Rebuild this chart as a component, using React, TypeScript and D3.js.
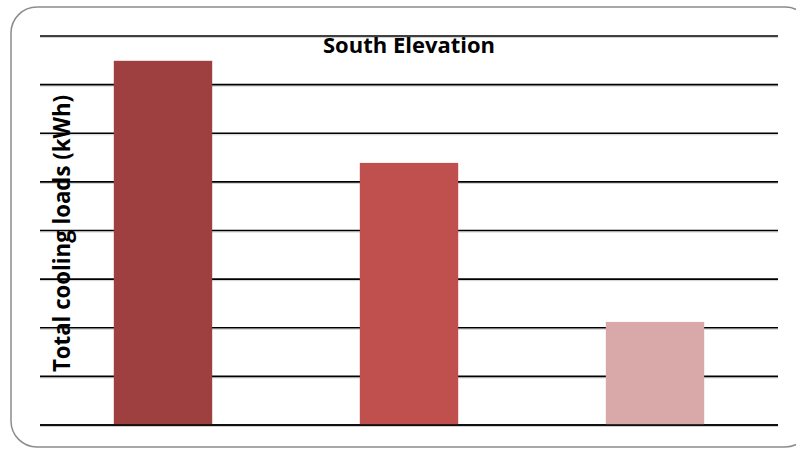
import React from "react";
import * as d3 from "d3";

const categories = ["Case A", "Case B", "Case C"];
const coolingLoads = [7490, 5390, 2120];
const barColors = ["#9E4040", "#C0504D", "#D9A9A9"];
const yTicks = [0, 1000, 2000, 3000, 4000, 5000, 6000, 7000, 8000];

const W = 796;
const H = 450;
const margin = { left: 40, right: 18, top: 36, bottom: 25 };

export default function App() {
  const x = d3
    .scaleBand<string>()
    .domain(categories)
    .range([margin.left, W - margin.right])
    .paddingInner(0.6)
    .paddingOuter(0.3);
  const y = d3
    .scaleLinear()
    .domain([0, 8000])
    .range([H - margin.bottom, margin.top]);

  return (
    <div style={{ position: "fixed", left: 0, top: 0 }}>
      <svg width={W} height={H} style={{ display: "block", background: "#fff" }}>
        <rect x={11} y={7} width={800} height={440} rx={26} ry={26} fill="#fff" stroke="#8c8c8c" strokeWidth={1.5} />
        {yTicks.map((t) => (
          <g key={t}>
            <line x1={margin.left} x2={W - margin.right} y1={y(t) + 1.5} y2={y(t) + 1.5} stroke="#d0d0d0" strokeWidth={1} />
            <line x1={margin.left} x2={W - margin.right} y1={y(t)} y2={y(t)} stroke="#000" strokeWidth={1.6} />
          </g>
        ))}
        {categories.map((c, i) => (
          <rect
            key={c}
            x={x(c)}
            y={y(coolingLoads[i])}
            width={x.bandwidth()}
            height={y(0) - y(coolingLoads[i])}
            fill={barColors[i]}
          />
        ))}
        <line x1={margin.left} x2={W - margin.right} y1={y(0)} y2={y(0)} stroke="#000" strokeWidth={1.6} />
        <text
          x={409}
          y={53}
          textAnchor="middle"
          fontFamily="'Open Sans', sans-serif"
          fontWeight={700}
          fontSize={22}
          textLength={172}
          lengthAdjust="spacingAndGlyphs"
          fill="#000"
        >
          South Elevation
        </text>
        <text
          transform={`translate(70,233.5) rotate(-90)`}
          textAnchor="middle"
          fontFamily="'Open Sans', sans-serif"
          fontWeight={700}
          fontSize={24}
          textLength={277}
          lengthAdjust="spacingAndGlyphs"
          fill="#000"
        >
          Total cooling loads (kWh)
        </text>
      </svg>
    </div>
  );
}
